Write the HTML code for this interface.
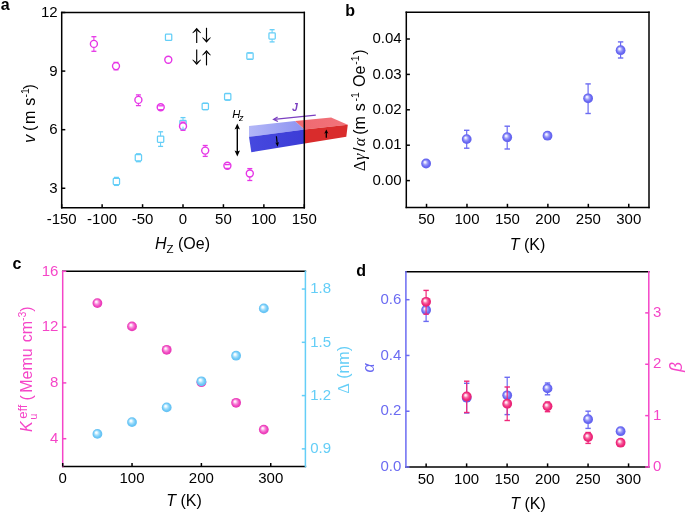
<!DOCTYPE html>
<html><head><meta charset="utf-8"><style>
html,body{margin:0;padding:0;background:#fff;}
svg{display:block;will-change:transform;}
text{font-family:"Liberation Sans", sans-serif;}
</style></head><body>
<svg width="685" height="514" viewBox="0 0 685 514">
<rect width="685" height="514" fill="#fff"/>
<defs>
<radialGradient id="gV" cx="0.5" cy="0.5" r="0.5" fx="0.36" fy="0.34"><stop offset="0" stop-color="#ffffff"/><stop offset="0.18" stop-color="#e4e4ff"/><stop offset="0.45" stop-color="#9a9af8"/><stop offset="0.75" stop-color="#6a6af3"/><stop offset="1" stop-color="#6060ec"/></radialGradient>
<radialGradient id="gP" cx="0.5" cy="0.5" r="0.5" fx="0.36" fy="0.34"><stop offset="0" stop-color="#ffffff"/><stop offset="0.18" stop-color="#ffe4f7"/><stop offset="0.45" stop-color="#f78ad9"/><stop offset="0.75" stop-color="#f046c0"/><stop offset="1" stop-color="#e636b4"/></radialGradient>
<radialGradient id="gB" cx="0.5" cy="0.5" r="0.5" fx="0.36" fy="0.34"><stop offset="0" stop-color="#ffffff"/><stop offset="0.18" stop-color="#f2fbff"/><stop offset="0.45" stop-color="#a6e0fb"/><stop offset="0.75" stop-color="#6ec8f7"/><stop offset="1" stop-color="#62c0f2"/></radialGradient>
<radialGradient id="gR" cx="0.5" cy="0.5" r="0.5" fx="0.36" fy="0.34"><stop offset="0" stop-color="#ffffff"/><stop offset="0.18" stop-color="#ffdcea"/><stop offset="0.45" stop-color="#f76aa4"/><stop offset="0.75" stop-color="#f02a7c"/><stop offset="1" stop-color="#e61f72"/></radialGradient>
<linearGradient id="bt" x1="0" y1="0" x2="1" y2="0"><stop offset="0" stop-color="#b3b7f7"/><stop offset="1" stop-color="#8c92f1"/></linearGradient>
<linearGradient id="bf" x1="0" y1="0" x2="1" y2="0"><stop offset="0" stop-color="#4649df"/><stop offset="1" stop-color="#3c3cd6"/></linearGradient>
<linearGradient id="rt" x1="0" y1="0" x2="1" y2="0"><stop offset="0" stop-color="#ee6870"/><stop offset="1" stop-color="#f2747b"/></linearGradient>
</defs>
<polygon points="249.0,125.9 295.0,121.1 304.6,129.5 249.0,136.8" fill="url(#bt)"/>
<polygon points="249.0,136.8 304.6,129.5 304.6,143.6 251.3,152.2" fill="url(#bf)"/>
<polygon points="295.0,121.1 331.1,117.4 347.8,124.7 304.6,129.5" fill="url(#rt)"/>
<polygon points="304.6,129.5 347.8,124.7 346.3,136.8 304.6,143.6" fill="#d92c2c"/>
<line x1="276.40" y1="136.20" x2="277.20" y2="143.50" stroke="#000" stroke-width="1.2" />
<polygon points="277.6,146.8 275.3,142.4 277.1,143.2 279.0,142.1" fill="#000"/>
<line x1="326.30" y1="137.80" x2="326.30" y2="131.98" stroke="#000" stroke-width="1.3" />
<polygon points="326.30,129.40 324.20,133.70 326.30,132.41 328.40,133.70" fill="#000"/>
<line x1="315.80" y1="115.10" x2="274.00" y2="119.40" stroke="#7b3fc0" stroke-width="1.3" />
<polyline points="277.6,117.0 273.6,119.4 277.9,121.5" fill="none" stroke="#7b3fc0" stroke-width="1.3"/>
<text x="295.00" y="111.40" font-size="10.5" text-anchor="middle" fill="#7b3fc0" font-family='"Liberation Sans", sans-serif' font-style="italic" font-weight="bold">J</text>
<text x="232.20" y="118.00" font-size="11.2" text-anchor="start" fill="#000" font-family='"Liberation Sans", sans-serif' font-style="italic">H</text>
<text x="238.90" y="120.50" font-size="9" text-anchor="start" fill="#000" font-family='"Liberation Sans", sans-serif' font-style="italic">z</text>
<line x1="237.30" y1="127.50" x2="237.30" y2="152.50" stroke="#000" stroke-width="1.4" />
<polygon points="237.3,123.4 234.6,129.4 237.3,128.2 240.0,129.4" fill="#000"/>
<polygon points="237.3,156.4 234.6,150.4 237.3,151.6 240.0,150.4" fill="#000"/>
<line x1="61.70" y1="12.50" x2="304.30" y2="12.50" stroke="#000" stroke-width="1.5" stroke-linecap="square"/>
<line x1="61.70" y1="207.80" x2="304.30" y2="207.80" stroke="#000" stroke-width="1.5" stroke-linecap="square"/>
<line x1="61.70" y1="12.50" x2="61.70" y2="207.80" stroke="#000" stroke-width="1.5" stroke-linecap="square"/>
<line x1="304.30" y1="12.50" x2="304.30" y2="207.80" stroke="#000" stroke-width="1.5" stroke-linecap="square"/>
<line x1="61.70" y1="207.80" x2="61.70" y2="204.20" stroke="#000" stroke-width="1.5" />
<text x="61.70" y="224.20" font-size="15" text-anchor="middle" fill="#000" font-family='"Liberation Sans", sans-serif' >-150</text>
<line x1="102.13" y1="207.80" x2="102.13" y2="204.20" stroke="#000" stroke-width="1.5" />
<text x="102.13" y="224.20" font-size="15" text-anchor="middle" fill="#000" font-family='"Liberation Sans", sans-serif' >-100</text>
<line x1="142.57" y1="207.80" x2="142.57" y2="204.20" stroke="#000" stroke-width="1.5" />
<text x="142.57" y="224.20" font-size="15" text-anchor="middle" fill="#000" font-family='"Liberation Sans", sans-serif' >-50</text>
<line x1="183.00" y1="207.80" x2="183.00" y2="204.20" stroke="#000" stroke-width="1.5" />
<text x="183.00" y="224.20" font-size="15" text-anchor="middle" fill="#000" font-family='"Liberation Sans", sans-serif' >0</text>
<line x1="223.43" y1="207.80" x2="223.43" y2="204.20" stroke="#000" stroke-width="1.5" />
<text x="223.43" y="224.20" font-size="15" text-anchor="middle" fill="#000" font-family='"Liberation Sans", sans-serif' >50</text>
<line x1="263.87" y1="207.80" x2="263.87" y2="204.20" stroke="#000" stroke-width="1.5" />
<text x="263.87" y="224.20" font-size="15" text-anchor="middle" fill="#000" font-family='"Liberation Sans", sans-serif' >100</text>
<line x1="304.30" y1="207.80" x2="304.30" y2="204.20" stroke="#000" stroke-width="1.5" />
<text x="304.30" y="224.20" font-size="15" text-anchor="middle" fill="#000" font-family='"Liberation Sans", sans-serif' >150</text>
<line x1="61.70" y1="188.27" x2="65.30" y2="188.27" stroke="#000" stroke-width="1.5" />
<text x="57.60" y="193.07" font-size="15" text-anchor="end" fill="#000" font-family='"Liberation Sans", sans-serif' >3</text>
<line x1="61.70" y1="129.68" x2="65.30" y2="129.68" stroke="#000" stroke-width="1.5" />
<text x="57.60" y="134.48" font-size="15" text-anchor="end" fill="#000" font-family='"Liberation Sans", sans-serif' >6</text>
<line x1="61.70" y1="71.09" x2="65.30" y2="71.09" stroke="#000" stroke-width="1.5" />
<text x="57.60" y="75.89" font-size="15" text-anchor="end" fill="#000" font-family='"Liberation Sans", sans-serif' >9</text>
<line x1="61.70" y1="12.50" x2="65.30" y2="12.50" stroke="#000" stroke-width="1.5" />
<text x="57.60" y="17.30" font-size="15" text-anchor="end" fill="#000" font-family='"Liberation Sans", sans-serif' >12</text>
<rect x="165.45" y="34.15" width="6.3" height="6.3" rx="0.8" fill="#fff" stroke="#64cef7" stroke-width="1.25"/>
<circle cx="168.30" cy="59.80" r="3.5" fill="#fff" stroke="#e636e6" stroke-width="1.4"/>
<line x1="196.70" y1="43.00" x2="196.70" y2="30.80" stroke="#000" stroke-width="1.15" />
<polygon points="196.70,27.80 192.40,32.80 192.80,33.30 196.70,30.40 200.60,33.30 201.00,32.80" fill="#000"/>
<line x1="206.50" y1="27.80" x2="206.50" y2="39.80" stroke="#000" stroke-width="1.15" />
<polygon points="206.50,42.80 202.20,37.80 202.60,37.30 206.50,40.20 210.40,37.30 210.80,37.80" fill="#000"/>
<line x1="196.70" y1="49.50" x2="196.70" y2="62.10" stroke="#000" stroke-width="1.15" />
<polygon points="196.70,65.10 192.40,60.10 192.80,59.60 196.70,62.50 200.60,59.60 201.00,60.10" fill="#000"/>
<line x1="206.50" y1="65.40" x2="206.50" y2="53.00" stroke="#000" stroke-width="1.15" />
<polygon points="206.50,50.00 202.20,55.00 202.60,55.50 206.50,52.60 210.40,55.50 210.80,55.00" fill="#000"/>
<rect x="113.25" y="178.35" width="6.3" height="6.3" rx="0.8" fill="#fff" stroke="#64cef7" stroke-width="1.25"/>
<rect x="135.25" y="154.55" width="6.3" height="6.3" rx="0.8" fill="#fff" stroke="#64cef7" stroke-width="1.25"/>
<rect x="157.45" y="136.05" width="6.3" height="6.3" rx="0.8" fill="#fff" stroke="#64cef7" stroke-width="1.25"/>
<rect x="179.85" y="120.35" width="6.3" height="6.3" rx="0.8" fill="#fff" stroke="#64cef7" stroke-width="1.25"/>
<rect x="202.15" y="103.25" width="6.3" height="6.3" rx="0.8" fill="#fff" stroke="#64cef7" stroke-width="1.25"/>
<rect x="224.55" y="93.65" width="6.3" height="6.3" rx="0.8" fill="#fff" stroke="#64cef7" stroke-width="1.25"/>
<rect x="246.85" y="52.95" width="6.3" height="6.3" rx="0.8" fill="#fff" stroke="#64cef7" stroke-width="1.25"/>
<rect x="268.95" y="32.85" width="6.3" height="6.3" rx="0.8" fill="#fff" stroke="#64cef7" stroke-width="1.25"/>
<circle cx="93.90" cy="43.90" r="3.5" fill="#fff" stroke="#e636e6" stroke-width="1.4"/>
<circle cx="116.00" cy="66.10" r="3.5" fill="#fff" stroke="#e636e6" stroke-width="1.4"/>
<circle cx="138.40" cy="99.90" r="3.5" fill="#fff" stroke="#e636e6" stroke-width="1.4"/>
<circle cx="160.70" cy="107.20" r="3.5" fill="#fff" stroke="#e636e6" stroke-width="1.4"/>
<circle cx="183.00" cy="126.20" r="3.5" fill="#fff" stroke="#e636e6" stroke-width="1.4"/>
<circle cx="205.20" cy="150.60" r="3.5" fill="#fff" stroke="#e636e6" stroke-width="1.4"/>
<circle cx="227.40" cy="165.80" r="3.5" fill="#fff" stroke="#e636e6" stroke-width="1.4"/>
<circle cx="249.80" cy="173.50" r="3.5" fill="#fff" stroke="#e636e6" stroke-width="1.4"/>
<line x1="116.40" y1="177.40" x2="116.40" y2="178.35" stroke="#64cef7" stroke-width="1.0" />
<line x1="116.40" y1="184.65" x2="116.40" y2="185.40" stroke="#64cef7" stroke-width="1.0" />
<line x1="113.90" y1="177.40" x2="118.90" y2="177.40" stroke="#64cef7" stroke-width="1.3" />
<line x1="113.90" y1="185.40" x2="118.90" y2="185.40" stroke="#64cef7" stroke-width="1.3" />
<line x1="138.40" y1="153.80" x2="138.40" y2="154.55" stroke="#64cef7" stroke-width="1.0" />
<line x1="138.40" y1="160.85" x2="138.40" y2="161.70" stroke="#64cef7" stroke-width="1.0" />
<line x1="135.90" y1="153.80" x2="140.90" y2="153.80" stroke="#64cef7" stroke-width="1.3" />
<line x1="135.90" y1="161.70" x2="140.90" y2="161.70" stroke="#64cef7" stroke-width="1.3" />
<line x1="160.60" y1="131.80" x2="160.60" y2="136.05" stroke="#64cef7" stroke-width="1.0" />
<line x1="160.60" y1="142.35" x2="160.60" y2="146.40" stroke="#64cef7" stroke-width="1.0" />
<line x1="158.10" y1="131.80" x2="163.10" y2="131.80" stroke="#64cef7" stroke-width="1.3" />
<line x1="158.10" y1="146.40" x2="163.10" y2="146.40" stroke="#64cef7" stroke-width="1.3" />
<line x1="183.00" y1="117.60" x2="183.00" y2="120.35" stroke="#64cef7" stroke-width="1.0" />
<line x1="183.00" y1="126.65" x2="183.00" y2="129.40" stroke="#64cef7" stroke-width="1.0" />
<line x1="180.50" y1="117.60" x2="185.50" y2="117.60" stroke="#64cef7" stroke-width="1.3" />
<line x1="180.50" y1="129.40" x2="185.50" y2="129.40" stroke="#64cef7" stroke-width="1.3" />
<line x1="205.30" y1="103.20" x2="205.30" y2="103.25" stroke="#64cef7" stroke-width="1.0" />
<line x1="205.30" y1="109.55" x2="205.30" y2="109.60" stroke="#64cef7" stroke-width="1.0" />
<line x1="202.80" y1="103.20" x2="207.80" y2="103.20" stroke="#64cef7" stroke-width="1.3" />
<line x1="202.80" y1="109.60" x2="207.80" y2="109.60" stroke="#64cef7" stroke-width="1.3" />
<line x1="227.70" y1="93.40" x2="227.70" y2="93.65" stroke="#64cef7" stroke-width="1.0" />
<line x1="227.70" y1="99.95" x2="227.70" y2="100.20" stroke="#64cef7" stroke-width="1.0" />
<line x1="225.20" y1="93.40" x2="230.20" y2="93.40" stroke="#64cef7" stroke-width="1.3" />
<line x1="225.20" y1="100.20" x2="230.20" y2="100.20" stroke="#64cef7" stroke-width="1.3" />
<line x1="247.50" y1="53.00" x2="252.50" y2="53.00" stroke="#64cef7" stroke-width="1.3" />
<line x1="247.50" y1="59.20" x2="252.50" y2="59.20" stroke="#64cef7" stroke-width="1.3" />
<line x1="272.10" y1="29.70" x2="272.10" y2="32.85" stroke="#64cef7" stroke-width="1.0" />
<line x1="272.10" y1="39.15" x2="272.10" y2="41.90" stroke="#64cef7" stroke-width="1.0" />
<line x1="269.60" y1="29.70" x2="274.60" y2="29.70" stroke="#64cef7" stroke-width="1.3" />
<line x1="269.60" y1="41.90" x2="274.60" y2="41.90" stroke="#64cef7" stroke-width="1.3" />
<line x1="93.90" y1="36.70" x2="93.90" y2="40.40" stroke="#e636e6" stroke-width="1.0" />
<line x1="93.90" y1="47.40" x2="93.90" y2="51.30" stroke="#e636e6" stroke-width="1.0" />
<line x1="91.40" y1="36.70" x2="96.40" y2="36.70" stroke="#e636e6" stroke-width="1.3" />
<line x1="91.40" y1="51.30" x2="96.40" y2="51.30" stroke="#e636e6" stroke-width="1.3" />
<line x1="116.00" y1="62.40" x2="116.00" y2="62.60" stroke="#e636e6" stroke-width="1.0" />
<line x1="116.00" y1="69.60" x2="116.00" y2="69.80" stroke="#e636e6" stroke-width="1.0" />
<line x1="113.50" y1="62.40" x2="118.50" y2="62.40" stroke="#e636e6" stroke-width="1.3" />
<line x1="113.50" y1="69.80" x2="118.50" y2="69.80" stroke="#e636e6" stroke-width="1.3" />
<line x1="138.40" y1="94.90" x2="138.40" y2="96.40" stroke="#e636e6" stroke-width="1.0" />
<line x1="138.40" y1="103.40" x2="138.40" y2="105.60" stroke="#e636e6" stroke-width="1.0" />
<line x1="135.90" y1="94.90" x2="140.90" y2="94.90" stroke="#e636e6" stroke-width="1.3" />
<line x1="135.90" y1="105.60" x2="140.90" y2="105.60" stroke="#e636e6" stroke-width="1.3" />
<line x1="158.20" y1="105.80" x2="163.20" y2="105.80" stroke="#e636e6" stroke-width="1.3" />
<line x1="158.20" y1="109.70" x2="163.20" y2="109.70" stroke="#e636e6" stroke-width="1.3" />
<line x1="183.00" y1="122.10" x2="183.00" y2="122.70" stroke="#e636e6" stroke-width="1.0" />
<line x1="183.00" y1="129.70" x2="183.00" y2="130.30" stroke="#e636e6" stroke-width="1.0" />
<line x1="180.50" y1="122.10" x2="185.50" y2="122.10" stroke="#e636e6" stroke-width="1.3" />
<line x1="180.50" y1="130.30" x2="185.50" y2="130.30" stroke="#e636e6" stroke-width="1.3" />
<line x1="205.20" y1="145.50" x2="205.20" y2="147.10" stroke="#e636e6" stroke-width="1.0" />
<line x1="205.20" y1="154.10" x2="205.20" y2="156.40" stroke="#e636e6" stroke-width="1.0" />
<line x1="202.70" y1="145.50" x2="207.70" y2="145.50" stroke="#e636e6" stroke-width="1.3" />
<line x1="202.70" y1="156.40" x2="207.70" y2="156.40" stroke="#e636e6" stroke-width="1.3" />
<line x1="224.90" y1="164.60" x2="229.90" y2="164.60" stroke="#e636e6" stroke-width="1.3" />
<line x1="224.90" y1="168.40" x2="229.90" y2="168.40" stroke="#e636e6" stroke-width="1.3" />
<line x1="249.80" y1="168.60" x2="249.80" y2="170.00" stroke="#e636e6" stroke-width="1.0" />
<line x1="249.80" y1="177.00" x2="249.80" y2="180.50" stroke="#e636e6" stroke-width="1.0" />
<line x1="247.30" y1="168.60" x2="252.30" y2="168.60" stroke="#e636e6" stroke-width="1.3" />
<line x1="247.30" y1="180.50" x2="252.30" y2="180.50" stroke="#e636e6" stroke-width="1.3" />
<text transform="translate(35.20,141.90) rotate(-90)" fill="#000" xml:space="preserve"><tspan x="-0.88" y="0.00" font-size="16" font-family='"Liberation Sans", sans-serif' font-style="italic">v</tspan><tspan x="11.01" y="0.00" font-size="16" font-family='"Liberation Sans", sans-serif' font-style="normal">(</tspan><tspan x="17.84" y="0.00" font-size="16" font-family='"Liberation Sans", sans-serif' font-style="normal">m</tspan><tspan x="36.15" y="0.00" font-size="16" font-family='"Liberation Sans", sans-serif' font-style="normal">s</tspan><tspan x="44.33" y="-6.20" font-size="10.5" font-family='"Liberation Sans", sans-serif' font-style="normal">-1</tspan><tspan x="52.31" y="0.00" font-size="16" font-family='"Liberation Sans", sans-serif' font-style="normal">)</tspan></text>
<text x="155.0" y="248.7" font-size="16" font-family='"Liberation Sans", sans-serif' fill="#000"><tspan font-style="italic">H</tspan><tspan font-size="11.5" dy="4.2">Z</tspan><tspan dy="-4.2"> (Oe)</tspan></text>
<text x="0.70" y="10.20" font-size="16" text-anchor="start" fill="#000" font-family='"Liberation Sans", sans-serif' font-weight="bold">a</text>
<line x1="406.30" y1="12.30" x2="649.00" y2="12.30" stroke="#000" stroke-width="1.5" stroke-linecap="square"/>
<line x1="406.30" y1="207.40" x2="649.00" y2="207.40" stroke="#000" stroke-width="1.5" stroke-linecap="square"/>
<line x1="406.30" y1="12.30" x2="406.30" y2="207.40" stroke="#000" stroke-width="1.5" stroke-linecap="square"/>
<line x1="649.00" y1="12.30" x2="649.00" y2="207.40" stroke="#000" stroke-width="1.5" stroke-linecap="square"/>
<line x1="426.53" y1="207.40" x2="426.53" y2="203.80" stroke="#000" stroke-width="1.5" />
<text x="426.53" y="224.20" font-size="15" text-anchor="middle" fill="#000" font-family='"Liberation Sans", sans-serif' >50</text>
<line x1="466.98" y1="207.40" x2="466.98" y2="203.80" stroke="#000" stroke-width="1.5" />
<text x="466.98" y="224.20" font-size="15" text-anchor="middle" fill="#000" font-family='"Liberation Sans", sans-serif' >100</text>
<line x1="507.43" y1="207.40" x2="507.43" y2="203.80" stroke="#000" stroke-width="1.5" />
<text x="507.43" y="224.20" font-size="15" text-anchor="middle" fill="#000" font-family='"Liberation Sans", sans-serif' >150</text>
<line x1="547.88" y1="207.40" x2="547.88" y2="203.80" stroke="#000" stroke-width="1.5" />
<text x="547.88" y="224.20" font-size="15" text-anchor="middle" fill="#000" font-family='"Liberation Sans", sans-serif' >200</text>
<line x1="588.33" y1="207.40" x2="588.33" y2="203.80" stroke="#000" stroke-width="1.5" />
<text x="588.33" y="224.20" font-size="15" text-anchor="middle" fill="#000" font-family='"Liberation Sans", sans-serif' >250</text>
<line x1="628.77" y1="207.40" x2="628.77" y2="203.80" stroke="#000" stroke-width="1.5" />
<text x="628.77" y="224.20" font-size="15" text-anchor="middle" fill="#000" font-family='"Liberation Sans", sans-serif' >300</text>
<line x1="406.30" y1="180.60" x2="409.90" y2="180.60" stroke="#000" stroke-width="1.5" />
<text x="401.60" y="184.80" font-size="15" text-anchor="end" fill="#000" font-family='"Liberation Sans", sans-serif' >0.00</text>
<line x1="406.30" y1="145.20" x2="409.90" y2="145.20" stroke="#000" stroke-width="1.5" />
<text x="401.60" y="149.40" font-size="15" text-anchor="end" fill="#000" font-family='"Liberation Sans", sans-serif' >0.01</text>
<line x1="406.30" y1="109.80" x2="409.90" y2="109.80" stroke="#000" stroke-width="1.5" />
<text x="401.60" y="114.00" font-size="15" text-anchor="end" fill="#000" font-family='"Liberation Sans", sans-serif' >0.02</text>
<line x1="406.30" y1="74.40" x2="409.90" y2="74.40" stroke="#000" stroke-width="1.5" />
<text x="401.60" y="78.60" font-size="15" text-anchor="end" fill="#000" font-family='"Liberation Sans", sans-serif' >0.03</text>
<line x1="406.30" y1="39.00" x2="409.90" y2="39.00" stroke="#000" stroke-width="1.5" />
<text x="401.60" y="43.20" font-size="15" text-anchor="end" fill="#000" font-family='"Liberation Sans", sans-serif' >0.04</text>
<circle cx="426.10" cy="163.50" r="4.9" fill="url(#gV)"/>
<line x1="466.70" y1="130.30" x2="466.70" y2="148.20" stroke="#6b6bf2" stroke-width="1.2" />
<line x1="464.00" y1="130.30" x2="469.40" y2="130.30" stroke="#6b6bf2" stroke-width="1.4" />
<line x1="464.00" y1="148.20" x2="469.40" y2="148.20" stroke="#6b6bf2" stroke-width="1.4" />
<circle cx="466.70" cy="139.10" r="4.9" fill="url(#gV)"/>
<line x1="507.20" y1="126.20" x2="507.20" y2="149.00" stroke="#6b6bf2" stroke-width="1.2" />
<line x1="504.50" y1="126.20" x2="509.90" y2="126.20" stroke="#6b6bf2" stroke-width="1.4" />
<line x1="504.50" y1="149.00" x2="509.90" y2="149.00" stroke="#6b6bf2" stroke-width="1.4" />
<circle cx="507.20" cy="137.20" r="4.9" fill="url(#gV)"/>
<circle cx="547.50" cy="135.70" r="4.9" fill="url(#gV)"/>
<line x1="588.10" y1="83.90" x2="588.10" y2="113.50" stroke="#6b6bf2" stroke-width="1.2" />
<line x1="585.40" y1="83.90" x2="590.80" y2="83.90" stroke="#6b6bf2" stroke-width="1.4" />
<line x1="585.40" y1="113.50" x2="590.80" y2="113.50" stroke="#6b6bf2" stroke-width="1.4" />
<circle cx="588.10" cy="98.30" r="4.9" fill="url(#gV)"/>
<line x1="620.60" y1="41.90" x2="620.60" y2="58.00" stroke="#6b6bf2" stroke-width="1.2" />
<line x1="617.90" y1="41.90" x2="623.30" y2="41.90" stroke="#6b6bf2" stroke-width="1.4" />
<line x1="617.90" y1="58.00" x2="623.30" y2="58.00" stroke="#6b6bf2" stroke-width="1.4" />
<circle cx="620.60" cy="50.20" r="4.9" fill="url(#gV)"/>
<text transform="translate(364.80,170.60) rotate(-90)" fill="#000" xml:space="preserve"><tspan x="-0.41" y="0.00" font-size="16" font-family='"Liberation Serif", serif' font-style="normal">Δ</tspan><tspan x="10.61" y="0.00" font-size="16" font-family='"Liberation Serif", serif' font-style="italic">γ</tspan><tspan x="18.50" y="0.00" font-size="16" font-family='"Liberation Sans", sans-serif' font-style="normal">/</tspan><tspan x="24.42" y="0.00" font-size="16" font-family='"Liberation Serif", serif' font-style="italic">α</tspan><tspan x="35.81" y="0.00" font-size="16" font-family='"Liberation Sans", sans-serif' font-style="normal">(m</tspan><tspan x="59.45" y="0.00" font-size="16" font-family='"Liberation Sans", sans-serif' font-style="normal">s</tspan><tspan x="69.03" y="-6.20" font-size="10.5" font-family='"Liberation Sans", sans-serif' font-style="normal">-1</tspan><tspan x="83.64" y="0.00" font-size="16" font-family='"Liberation Sans", sans-serif' font-style="normal">Oe</tspan><tspan x="105.83" y="-6.20" font-size="10.5" font-family='"Liberation Sans", sans-serif' font-style="normal">-1</tspan><tspan x="115.91" y="0.00" font-size="16" font-family='"Liberation Sans", sans-serif' font-style="normal">)</tspan></text>
<text x="509.7" y="249.5" font-size="16" font-family='"Liberation Sans", sans-serif' fill="#000"><tspan font-style="italic">T</tspan> (K)</text>
<text x="345.20" y="15.90" font-size="16" text-anchor="start" fill="#000" font-family='"Liberation Sans", sans-serif' font-weight="bold">b</text>
<line x1="62.70" y1="271.30" x2="305.40" y2="271.30" stroke="#000" stroke-width="1.5" stroke-linecap="square"/>
<line x1="62.70" y1="466.60" x2="305.40" y2="466.60" stroke="#000" stroke-width="1.5" stroke-linecap="square"/>
<line x1="62.70" y1="271.30" x2="62.70" y2="466.60" stroke="#f545c8" stroke-width="1.5" stroke-linecap="square"/>
<line x1="305.40" y1="271.30" x2="305.40" y2="466.60" stroke="#64cef7" stroke-width="1.5" stroke-linecap="square"/>
<line x1="62.70" y1="466.60" x2="62.70" y2="463.00" stroke="#000" stroke-width="1.5" />
<text x="62.70" y="482.80" font-size="15" text-anchor="middle" fill="#000" font-family='"Liberation Sans", sans-serif' >0</text>
<line x1="132.04" y1="466.60" x2="132.04" y2="463.00" stroke="#000" stroke-width="1.5" />
<text x="132.04" y="482.80" font-size="15" text-anchor="middle" fill="#000" font-family='"Liberation Sans", sans-serif' >100</text>
<line x1="201.39" y1="466.60" x2="201.39" y2="463.00" stroke="#000" stroke-width="1.5" />
<text x="201.39" y="482.80" font-size="15" text-anchor="middle" fill="#000" font-family='"Liberation Sans", sans-serif' >200</text>
<line x1="270.73" y1="466.60" x2="270.73" y2="463.00" stroke="#000" stroke-width="1.5" />
<text x="270.73" y="482.80" font-size="15" text-anchor="middle" fill="#000" font-family='"Liberation Sans", sans-serif' >300</text>
<line x1="62.70" y1="438.70" x2="66.30" y2="438.70" stroke="#f545c8" stroke-width="1.5" />
<text x="58.40" y="442.90" font-size="15" text-anchor="end" fill="#f545c8" font-family='"Liberation Sans", sans-serif' >4</text>
<line x1="62.70" y1="382.90" x2="66.30" y2="382.90" stroke="#f545c8" stroke-width="1.5" />
<text x="58.40" y="387.10" font-size="15" text-anchor="end" fill="#f545c8" font-family='"Liberation Sans", sans-serif' >8</text>
<line x1="62.70" y1="327.10" x2="66.30" y2="327.10" stroke="#f545c8" stroke-width="1.5" />
<text x="58.40" y="331.30" font-size="15" text-anchor="end" fill="#f545c8" font-family='"Liberation Sans", sans-serif' >12</text>
<line x1="62.70" y1="271.30" x2="66.30" y2="271.30" stroke="#f545c8" stroke-width="1.5" />
<text x="58.40" y="275.50" font-size="15" text-anchor="end" fill="#f545c8" font-family='"Liberation Sans", sans-serif' >16</text>
<line x1="305.40" y1="448.85" x2="301.80" y2="448.85" stroke="#64cef7" stroke-width="1.5" />
<text x="310.20" y="453.05" font-size="15" text-anchor="start" fill="#64cef7" font-family='"Liberation Sans", sans-serif' >0.9</text>
<line x1="305.40" y1="395.58" x2="301.80" y2="395.58" stroke="#64cef7" stroke-width="1.5" />
<text x="310.20" y="399.78" font-size="15" text-anchor="start" fill="#64cef7" font-family='"Liberation Sans", sans-serif' >1.2</text>
<line x1="305.40" y1="342.32" x2="301.80" y2="342.32" stroke="#64cef7" stroke-width="1.5" />
<text x="310.20" y="346.52" font-size="15" text-anchor="start" fill="#64cef7" font-family='"Liberation Sans", sans-serif' >1.5</text>
<line x1="305.40" y1="289.05" x2="301.80" y2="289.05" stroke="#64cef7" stroke-width="1.5" />
<text x="310.20" y="293.25" font-size="15" text-anchor="start" fill="#64cef7" font-family='"Liberation Sans", sans-serif' >1.8</text>
<circle cx="97.40" cy="303.10" r="4.9" fill="url(#gP)"/>
<circle cx="132.00" cy="326.40" r="4.9" fill="url(#gP)"/>
<circle cx="166.70" cy="349.80" r="4.9" fill="url(#gP)"/>
<circle cx="201.40" cy="382.20" r="4.9" fill="url(#gP)"/>
<circle cx="236.10" cy="402.80" r="4.9" fill="url(#gP)"/>
<circle cx="263.80" cy="429.60" r="4.9" fill="url(#gP)"/>
<circle cx="97.40" cy="433.90" r="4.9" fill="url(#gB)"/>
<circle cx="132.00" cy="422.10" r="4.9" fill="url(#gB)"/>
<circle cx="166.70" cy="407.40" r="4.9" fill="url(#gB)"/>
<circle cx="201.40" cy="381.30" r="4.9" fill="url(#gB)"/>
<circle cx="236.10" cy="355.70" r="4.9" fill="url(#gB)"/>
<circle cx="263.80" cy="308.40" r="4.9" fill="url(#gB)"/>
<text transform="translate(32.40,431.50) rotate(-90)" fill="#f545c8" xml:space="preserve"><tspan x="-0.49" y="0.00" font-size="16" font-family='"Liberation Sans", sans-serif' font-style="italic">K</tspan><tspan x="11.89" y="4.40" font-size="11" font-family='"Liberation Sans", sans-serif' font-style="normal">u</tspan><tspan x="12.75" y="-5.20" font-size="13" font-family='"Liberation Sans", sans-serif' font-style="normal">eff</tspan><tspan x="31.11" y="0.00" font-size="16" font-family='"Liberation Sans", sans-serif' font-style="normal">(</tspan><tspan x="38.79" y="0.00" font-size="16" font-family='"Liberation Sans", sans-serif' font-style="normal">Memu</tspan><tspan x="89.22" y="0.00" font-size="16" font-family='"Liberation Sans", sans-serif' font-style="normal">cm</tspan><tspan x="110.63" y="-6.20" font-size="10.5" font-family='"Liberation Sans", sans-serif' font-style="normal">-3</tspan><tspan x="119.81" y="0.00" font-size="16" font-family='"Liberation Sans", sans-serif' font-style="normal">)</tspan></text>
<text transform="translate(349.0,393.6) rotate(-90)" font-size="16" font-family='"Liberation Sans", sans-serif' fill="#64cef7"><tspan font-family='"Liberation Serif", serif'>&#916;</tspan> (nm)</text>
<text x="166.3" y="506.2" font-size="16" font-family='"Liberation Sans", sans-serif' fill="#000"><tspan font-style="italic">T</tspan> (K)</text>
<text x="12.50" y="268.50" font-size="16" text-anchor="start" fill="#000" font-family='"Liberation Sans", sans-serif' font-weight="bold">c</text>
<line x1="405.90" y1="271.80" x2="648.80" y2="271.80" stroke="#000" stroke-width="1.5" stroke-linecap="square"/>
<line x1="405.90" y1="467.00" x2="648.80" y2="467.00" stroke="#000" stroke-width="1.5" stroke-linecap="square"/>
<line x1="405.90" y1="271.80" x2="405.90" y2="467.00" stroke="#6b6bf2" stroke-width="1.5" stroke-linecap="square"/>
<line x1="648.80" y1="271.80" x2="648.80" y2="467.00" stroke="#f545c8" stroke-width="1.5" stroke-linecap="square"/>
<line x1="426.14" y1="467.00" x2="426.14" y2="463.40" stroke="#000" stroke-width="1.5" />
<text x="426.14" y="483.60" font-size="15" text-anchor="middle" fill="#000" font-family='"Liberation Sans", sans-serif' >50</text>
<line x1="466.62" y1="467.00" x2="466.62" y2="463.40" stroke="#000" stroke-width="1.5" />
<text x="466.62" y="483.60" font-size="15" text-anchor="middle" fill="#000" font-family='"Liberation Sans", sans-serif' >100</text>
<line x1="507.11" y1="467.00" x2="507.11" y2="463.40" stroke="#000" stroke-width="1.5" />
<text x="507.11" y="483.60" font-size="15" text-anchor="middle" fill="#000" font-family='"Liberation Sans", sans-serif' >150</text>
<line x1="547.59" y1="467.00" x2="547.59" y2="463.40" stroke="#000" stroke-width="1.5" />
<text x="547.59" y="483.60" font-size="15" text-anchor="middle" fill="#000" font-family='"Liberation Sans", sans-serif' >200</text>
<line x1="588.07" y1="467.00" x2="588.07" y2="463.40" stroke="#000" stroke-width="1.5" />
<text x="588.07" y="483.60" font-size="15" text-anchor="middle" fill="#000" font-family='"Liberation Sans", sans-serif' >250</text>
<line x1="628.56" y1="467.00" x2="628.56" y2="463.40" stroke="#000" stroke-width="1.5" />
<text x="628.56" y="483.60" font-size="15" text-anchor="middle" fill="#000" font-family='"Liberation Sans", sans-serif' >300</text>
<line x1="405.90" y1="467.00" x2="409.50" y2="467.00" stroke="#6b6bf2" stroke-width="1.5" />
<text x="401.40" y="471.20" font-size="15" text-anchor="end" fill="#6b6bf2" font-family='"Liberation Sans", sans-serif' >0.0</text>
<line x1="405.90" y1="411.23" x2="409.50" y2="411.23" stroke="#6b6bf2" stroke-width="1.5" />
<text x="401.40" y="415.43" font-size="15" text-anchor="end" fill="#6b6bf2" font-family='"Liberation Sans", sans-serif' >0.2</text>
<line x1="405.90" y1="355.46" x2="409.50" y2="355.46" stroke="#6b6bf2" stroke-width="1.5" />
<text x="401.40" y="359.66" font-size="15" text-anchor="end" fill="#6b6bf2" font-family='"Liberation Sans", sans-serif' >0.4</text>
<line x1="405.90" y1="299.69" x2="409.50" y2="299.69" stroke="#6b6bf2" stroke-width="1.5" />
<text x="401.40" y="303.89" font-size="15" text-anchor="end" fill="#6b6bf2" font-family='"Liberation Sans", sans-serif' >0.6</text>
<line x1="648.80" y1="467.00" x2="645.20" y2="467.00" stroke="#f545c8" stroke-width="1.5" />
<text x="653.00" y="471.20" font-size="15" text-anchor="start" fill="#f545c8" font-family='"Liberation Sans", sans-serif' >0</text>
<line x1="648.80" y1="415.63" x2="645.20" y2="415.63" stroke="#f545c8" stroke-width="1.5" />
<text x="653.00" y="419.83" font-size="15" text-anchor="start" fill="#f545c8" font-family='"Liberation Sans", sans-serif' >1</text>
<line x1="648.80" y1="364.26" x2="645.20" y2="364.26" stroke="#f545c8" stroke-width="1.5" />
<text x="653.00" y="368.46" font-size="15" text-anchor="start" fill="#f545c8" font-family='"Liberation Sans", sans-serif' >2</text>
<line x1="648.80" y1="312.89" x2="645.20" y2="312.89" stroke="#f545c8" stroke-width="1.5" />
<text x="653.00" y="317.09" font-size="15" text-anchor="start" fill="#f545c8" font-family='"Liberation Sans", sans-serif' >3</text>
<line x1="426.10" y1="298.60" x2="426.10" y2="321.40" stroke="#6b6bf2" stroke-width="1.2" />
<line x1="423.40" y1="298.60" x2="428.80" y2="298.60" stroke="#6b6bf2" stroke-width="1.4" />
<line x1="423.40" y1="321.40" x2="428.80" y2="321.40" stroke="#6b6bf2" stroke-width="1.4" />
<circle cx="426.10" cy="310.00" r="4.9" fill="url(#gV)"/>
<line x1="466.70" y1="383.30" x2="466.70" y2="413.00" stroke="#6b6bf2" stroke-width="1.2" />
<line x1="464.00" y1="383.30" x2="469.40" y2="383.30" stroke="#6b6bf2" stroke-width="1.4" />
<line x1="464.00" y1="413.00" x2="469.40" y2="413.00" stroke="#6b6bf2" stroke-width="1.4" />
<circle cx="466.70" cy="397.70" r="4.9" fill="url(#gV)"/>
<line x1="507.20" y1="377.30" x2="507.20" y2="414.60" stroke="#6b6bf2" stroke-width="1.2" />
<line x1="504.50" y1="377.30" x2="509.90" y2="377.30" stroke="#6b6bf2" stroke-width="1.4" />
<line x1="504.50" y1="414.60" x2="509.90" y2="414.60" stroke="#6b6bf2" stroke-width="1.4" />
<circle cx="507.20" cy="395.30" r="4.9" fill="url(#gV)"/>
<line x1="547.50" y1="383.00" x2="547.50" y2="394.80" stroke="#6b6bf2" stroke-width="1.2" />
<line x1="544.80" y1="383.00" x2="550.20" y2="383.00" stroke="#6b6bf2" stroke-width="1.4" />
<line x1="544.80" y1="394.80" x2="550.20" y2="394.80" stroke="#6b6bf2" stroke-width="1.4" />
<circle cx="547.50" cy="388.40" r="4.9" fill="url(#gV)"/>
<line x1="588.10" y1="411.20" x2="588.10" y2="428.40" stroke="#6b6bf2" stroke-width="1.2" />
<line x1="585.40" y1="411.20" x2="590.80" y2="411.20" stroke="#6b6bf2" stroke-width="1.4" />
<line x1="585.40" y1="428.40" x2="590.80" y2="428.40" stroke="#6b6bf2" stroke-width="1.4" />
<circle cx="588.10" cy="419.20" r="4.9" fill="url(#gV)"/>
<line x1="620.60" y1="429.00" x2="620.60" y2="433.50" stroke="#6b6bf2" stroke-width="1.2" />
<line x1="617.90" y1="429.00" x2="623.30" y2="429.00" stroke="#6b6bf2" stroke-width="1.4" />
<line x1="617.90" y1="433.50" x2="623.30" y2="433.50" stroke="#6b6bf2" stroke-width="1.4" />
<circle cx="620.60" cy="431.20" r="4.9" fill="url(#gV)"/>
<line x1="426.10" y1="290.40" x2="426.10" y2="314.20" stroke="#f0287a" stroke-width="1.2" />
<line x1="423.40" y1="290.40" x2="428.80" y2="290.40" stroke="#f0287a" stroke-width="1.4" />
<line x1="423.40" y1="314.20" x2="428.80" y2="314.20" stroke="#f0287a" stroke-width="1.4" />
<circle cx="426.10" cy="301.80" r="4.9" fill="url(#gR)"/>
<line x1="466.70" y1="381.20" x2="466.70" y2="412.50" stroke="#f0287a" stroke-width="1.2" />
<line x1="464.00" y1="381.20" x2="469.40" y2="381.20" stroke="#f0287a" stroke-width="1.4" />
<line x1="464.00" y1="412.50" x2="469.40" y2="412.50" stroke="#f0287a" stroke-width="1.4" />
<circle cx="466.70" cy="396.50" r="4.9" fill="url(#gR)"/>
<line x1="507.20" y1="387.00" x2="507.20" y2="420.50" stroke="#f0287a" stroke-width="1.2" />
<line x1="504.50" y1="387.00" x2="509.90" y2="387.00" stroke="#f0287a" stroke-width="1.4" />
<line x1="504.50" y1="420.50" x2="509.90" y2="420.50" stroke="#f0287a" stroke-width="1.4" />
<circle cx="507.20" cy="403.70" r="4.9" fill="url(#gR)"/>
<line x1="547.50" y1="402.00" x2="547.50" y2="411.70" stroke="#f0287a" stroke-width="1.2" />
<line x1="544.80" y1="402.00" x2="550.20" y2="402.00" stroke="#f0287a" stroke-width="1.4" />
<line x1="544.80" y1="411.70" x2="550.20" y2="411.70" stroke="#f0287a" stroke-width="1.4" />
<circle cx="547.50" cy="406.30" r="4.9" fill="url(#gR)"/>
<line x1="588.10" y1="432.50" x2="588.10" y2="443.40" stroke="#f0287a" stroke-width="1.2" />
<line x1="585.40" y1="432.50" x2="590.80" y2="432.50" stroke="#f0287a" stroke-width="1.4" />
<line x1="585.40" y1="443.40" x2="590.80" y2="443.40" stroke="#f0287a" stroke-width="1.4" />
<circle cx="588.10" cy="437.00" r="4.9" fill="url(#gR)"/>
<line x1="620.60" y1="440.50" x2="620.60" y2="445.00" stroke="#f0287a" stroke-width="1.2" />
<line x1="617.90" y1="440.50" x2="623.30" y2="440.50" stroke="#f0287a" stroke-width="1.4" />
<line x1="617.90" y1="445.00" x2="623.30" y2="445.00" stroke="#f0287a" stroke-width="1.4" />
<circle cx="620.60" cy="442.70" r="4.9" fill="url(#gR)"/>
<text transform="translate(373.9,372.4) rotate(-90)" font-size="16" font-family='"Liberation Serif", serif' font-style="italic" fill="#6b6bf2">&#945;</text>
<text transform="translate(681.6,372.0) rotate(-90)" font-size="17.5" font-family='"Liberation Serif", serif' font-style="italic" fill="#f545c8">&#946;</text>
<text x="510.3" y="509.4" font-size="16" font-family='"Liberation Sans", sans-serif' fill="#000"><tspan font-style="italic">T</tspan> (K)</text>
<text x="356.30" y="275.60" font-size="16" text-anchor="start" fill="#000" font-family='"Liberation Sans", sans-serif' font-weight="bold">d</text>
</svg>
</body></html>
